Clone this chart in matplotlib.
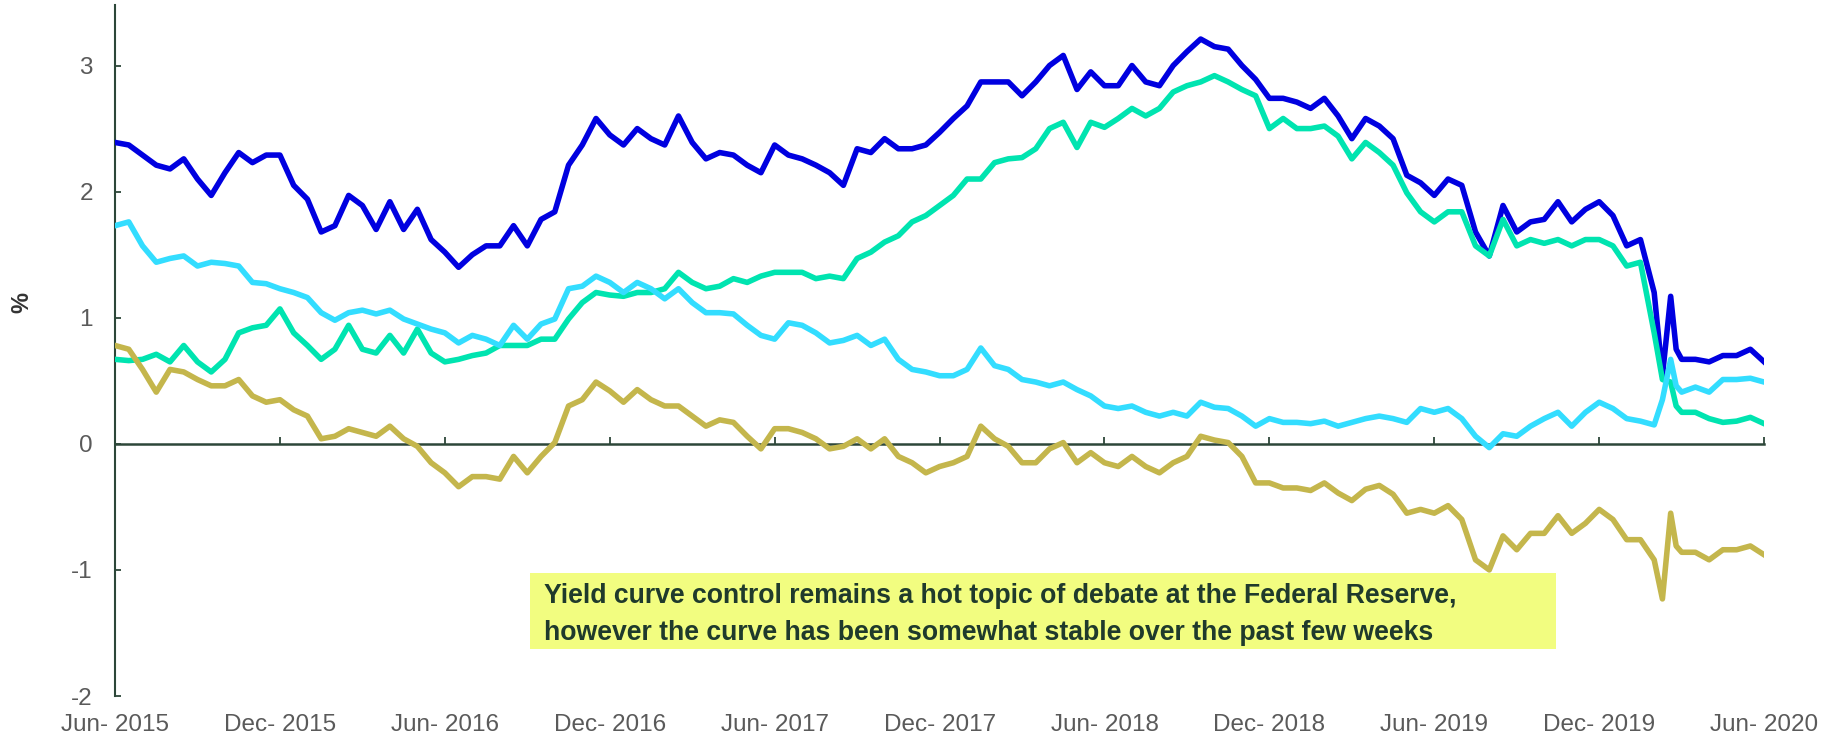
import matplotlib.pyplot as plt
import numpy as np

plt.rcParams['font.family'] = ['Liberation Sans', 'DejaVu Sans']

# sample dates, in months after Jun 2015 (half-month steps, extra points in Mar 2020)
months = list(np.arange(0, 56.5, 0.5)) + [56.3, 56.6, 56.8] + list(np.arange(57, 60.5, 0.5))

tick_months = [0, 6, 12, 18, 24, 30, 36, 42, 48, 54, 60]
tick_labels = ['Jun- 2015', 'Dec- 2015', 'Jun- 2016', 'Dec- 2016', 'Jun- 2017',
               'Dec- 2017', 'Jun- 2018', 'Dec- 2018', 'Jun- 2019', 'Dec- 2019',
               'Jun- 2020']

blue = [2.39, 2.37, 2.29, 2.21, 2.18, 2.26, 2.10, 1.97, 2.15, 2.31,
        2.23, 2.29, 2.29, 2.05, 1.94, 1.68, 1.73, 1.97, 1.89, 1.70,
        1.92, 1.70, 1.86, 1.62, 1.52, 1.40, 1.50, 1.57, 1.57, 1.73,
        1.57, 1.78, 1.84, 2.21, 2.37, 2.58, 2.45, 2.37, 2.50, 2.42,
        2.37, 2.60, 2.39, 2.26, 2.31, 2.29, 2.21, 2.15, 2.37, 2.29,
        2.26, 2.21, 2.15, 2.05, 2.34, 2.31, 2.42, 2.34, 2.34, 2.37,
        2.47, 2.58, 2.68, 2.87, 2.87, 2.87, 2.76, 2.87, 3.00, 3.08,
        2.81, 2.95, 2.84, 2.84, 3.00, 2.87, 2.84, 3.00, 3.11, 3.21,
        3.15, 3.13, 3.00, 2.89, 2.74, 2.74, 2.71, 2.66, 2.74, 2.60,
        2.42, 2.58, 2.52, 2.42, 2.13, 2.07, 1.97, 2.10, 2.05, 1.68,
        1.49, 1.89, 1.68, 1.76, 1.78, 1.92, 1.76, 1.86, 1.92, 1.81,
        1.57, 1.62, 1.20, 0.54, 1.17, 0.75, 0.67, 0.67, 0.65, 0.70,
        0.70, 0.75, 0.65]

cyan = [1.73, 1.76, 1.57, 1.44, 1.47, 1.49, 1.41, 1.44, 1.43, 1.41,
        1.28, 1.27, 1.23, 1.20, 1.16, 1.04, 0.98, 1.04, 1.06, 1.03,
        1.06, 0.99, 0.95, 0.91, 0.88, 0.80, 0.86, 0.83, 0.78, 0.94,
        0.83, 0.95, 0.99, 1.23, 1.25, 1.33, 1.28, 1.20, 1.28, 1.23,
        1.15, 1.23, 1.12, 1.04, 1.04, 1.03, 0.94, 0.86, 0.83, 0.96,
        0.94, 0.88, 0.80, 0.82, 0.86, 0.78, 0.83, 0.67, 0.59, 0.57,
        0.54, 0.54, 0.59, 0.76, 0.62, 0.59, 0.51, 0.49, 0.46, 0.49,
        0.43, 0.38, 0.30, 0.28, 0.30, 0.25, 0.22, 0.25, 0.22, 0.33,
        0.29, 0.28, 0.22, 0.14, 0.20, 0.17, 0.17, 0.16, 0.18, 0.14,
        0.17, 0.20, 0.22, 0.20, 0.17, 0.28, 0.25, 0.28, 0.20, 0.06,
        -0.03, 0.08, 0.06, 0.14, 0.20, 0.25, 0.14, 0.25, 0.33, 0.28,
        0.20, 0.18, 0.15, 0.35, 0.67, 0.46, 0.41, 0.45, 0.41, 0.51,
        0.51, 0.52, 0.49]

green = [0.67, 0.66, 0.67, 0.71, 0.65, 0.78, 0.65, 0.57, 0.67, 0.88,
         0.92, 0.94, 1.07, 0.88, 0.78, 0.67, 0.75, 0.94, 0.75, 0.72,
         0.86, 0.72, 0.91, 0.72, 0.65, 0.67, 0.70, 0.72, 0.78, 0.78,
         0.78, 0.83, 0.83, 0.99, 1.12, 1.20, 1.18, 1.17, 1.20, 1.20,
         1.23, 1.36, 1.28, 1.23, 1.25, 1.31, 1.28, 1.33, 1.36, 1.36,
         1.36, 1.31, 1.33, 1.31, 1.47, 1.52, 1.60, 1.65, 1.76, 1.81,
         1.89, 1.97, 2.10, 2.10, 2.23, 2.26, 2.27, 2.34, 2.50, 2.55,
         2.35, 2.55, 2.51, 2.58, 2.66, 2.60, 2.66, 2.79, 2.84, 2.87,
         2.92, 2.87, 2.81, 2.76, 2.50, 2.58, 2.50, 2.50, 2.52, 2.44,
         2.26, 2.39, 2.31, 2.21, 1.99, 1.84, 1.76, 1.84, 1.84, 1.57,
         1.49, 1.78, 1.57, 1.62, 1.59, 1.62, 1.57, 1.62, 1.62, 1.57,
         1.41, 1.44, 0.88, 0.51, 0.49, 0.30, 0.25, 0.25, 0.20, 0.17,
         0.18, 0.21, 0.16]

olive = [0.78, 0.75, 0.59, 0.41, 0.59, 0.57, 0.51, 0.46, 0.46, 0.51,
         0.38, 0.33, 0.35, 0.27, 0.22, 0.04, 0.06, 0.12, 0.09, 0.06,
         0.14, 0.04, -0.02, -0.15, -0.23, -0.34, -0.26, -0.26, -0.28, -0.10,
         -0.23, -0.10, 0.01, 0.30, 0.35, 0.49, 0.42, 0.33, 0.43, 0.35,
         0.30, 0.30, 0.22, 0.14, 0.19, 0.17, 0.06, -0.04, 0.12, 0.12,
         0.09, 0.04, -0.04, -0.02, 0.04, -0.04, 0.04, -0.10, -0.15, -0.23,
         -0.18, -0.15, -0.10, 0.14, 0.04, -0.02, -0.15, -0.15, -0.04, 0.01,
         -0.15, -0.07, -0.15, -0.18, -0.10, -0.18, -0.23, -0.15, -0.10, 0.06,
         0.03, 0.01, -0.10, -0.31, -0.31, -0.35, -0.35, -0.37, -0.31, -0.39,
         -0.45, -0.36, -0.33, -0.40, -0.55, -0.52, -0.55, -0.49, -0.60, -0.92,
         -1.00, -0.73, -0.84, -0.71, -0.71, -0.57, -0.71, -0.63, -0.52, -0.60,
         -0.76, -0.76, -0.92, -1.23, -0.55, -0.81, -0.86, -0.86, -0.92, -0.84,
         -0.84, -0.81, -0.88]

note = ['Yield curve control remains a hot topic of debate at the Federal Reserve,',
        'however the curve has been somewhat stable over the past few weeks']

axis_col = '#2d4739'
label_col = '#5a5a5a'

fig = plt.figure(figsize=(18.23, 7.37), dpi=100)
ax = fig.add_axes([0.0631, 0.0556, 0.9046, 0.9376])

lw = 4.0
ax.plot(months, blue, color='#0000e0', lw=lw, zorder=3)
ax.plot(months, green, color='#00e4b0', lw=lw, zorder=4)
ax.plot(months, cyan, color='#33ddff', lw=lw, zorder=5)
ax.plot(months, olive, color='#c4b64c', lw=lw, zorder=6)

ax.set_xlim(0, 60)
ax.set_ylim(-2, 3.48)

for s in ['top', 'right']:
    ax.spines[s].set_visible(False)
ax.spines['left'].set_color(axis_col)
ax.spines['left'].set_linewidth(1.5)
# x axis line sits at zero, with its ticks pointing up
ax.spines['bottom'].set_position(('data', 0))
ax.spines['bottom'].set_color(axis_col)
ax.spines['bottom'].set_linewidth(1.8)
ax.set_xticks(tick_months)
ax.tick_params(axis='x', direction='in', length=5, width=1.3, color=axis_col,
               labelbottom=False)

ax.set_yticks([-2, -1, 0, 1, 2, 3])
ax.set_yticklabels(['-2', '-1', '0', '1', '2', '3'])
ax.tick_params(axis='y', direction='in', length=4.5, width=1.3, color=axis_col,
               labelsize=17.5, labelcolor=label_col, pad=16)

# date labels along the bottom of the plot
sec = ax.secondary_xaxis(0)
sec.set_xticks(tick_months)
sec.set_xticklabels(tick_labels)
sec.spines['bottom'].set_visible(False)
sec.tick_params(length=0, labelsize=17.5, labelcolor=label_col, pad=13)

ax.set_ylabel('%', fontsize=17, fontweight='bold', color='#333333')
ax.yaxis.set_label_coords(-0.0493, 0.569)

box = plt.Rectangle((0.2907, 0.1194), 0.5628, 0.1031, transform=fig.transFigure,
                    facecolor='#f2fd80', edgecolor='none', zorder=10)
fig.patches.append(box)
fig.text(0.2983, 0.1814, note[0], fontsize=19.2, fontweight='bold',
         color='#1f3a2c', va='baseline', zorder=11)
fig.text(0.2983, 0.1316, note[1], fontsize=19.2, fontweight='bold',
         color='#1f3a2c', va='baseline', zorder=11)

fig.savefig('out.png', dpi=100)
